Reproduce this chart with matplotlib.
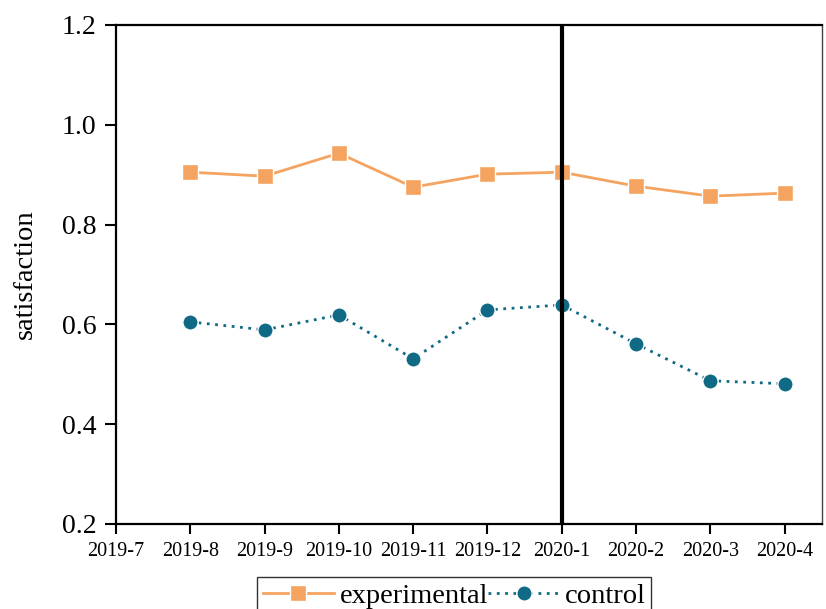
import matplotlib
matplotlib.use("Agg")
import matplotlib.pyplot as plt

months = ["2019-7", "2019-8", "2019-9", "2019-10", "2019-11", "2019-12",
          "2020-1", "2020-2", "2020-3", "2020-4"]
experimental = [0.905, 0.897, 0.943, 0.875, 0.901, 0.905, 0.877, 0.857, 0.863]
control = [0.605, 0.589, 0.619, 0.531, 0.629, 0.639, 0.561, 0.487, 0.481]
policy_month = "2020-1"

plt.rcParams["font.family"] = ["Liberation Serif", "DejaVu Serif"]

fig = plt.figure(figsize=(8.26, 6.09), dpi=100)
ax = fig.add_axes([0.1404, 0.1396, 0.8546, 0.8194])

x_idx = list(range(1, len(months)))
ax.plot(x_idx, experimental, color="#F4A460", lw=2.0, marker="s", ms=11,
        mec="white", mew=1.0, label="experimental", zorder=3)
ax.plot(x_idx, control, color="#106A85", lw=2.0, ls=(0, (1, 2)), marker="o",
        ms=11, mec="white", mew=1.0, label="control", zorder=3)

ax.axvline(months.index(policy_month), color="black", lw=3, zorder=4)

ax.set_xlim(0, len(months) - 0.5)
ax.set_ylim(0.2, 1.2)
ax.set_xticks(range(len(months)))
ax.set_xticklabels(months, fontsize=14.5)
ax.set_yticks([0.2, 0.4, 0.6, 0.8, 1.0, 1.2])
ax.set_yticklabels(["0.2", "0.4", "0.6", "0.8", "1.0", "1.2"], fontsize=20)
ax.set_ylabel("satisfaction", fontsize=20.5, labelpad=17)

ax.tick_params(axis="y", direction="out", length=8, width=1.5, pad=6)
ax.tick_params(axis="x", direction="out", length=7, width=1.5, pad=6)
for side in ["left", "bottom", "top"]:
    ax.spines[side].set_linewidth(1.6)
ax.spines["right"].set_linewidth(1.0)
ax.spines["right"].set_color("#444444")

leg = ax.legend(loc="upper center", bbox_to_anchor=(0.55, 0.0525),
                bbox_transform=fig.transFigure, ncol=2, fontsize=20.5,
                frameon=True, fancybox=False, edgecolor="black",
                handlelength=2.5, handletextpad=0.2, columnspacing=0.0,
                borderpad=0.2, borderaxespad=0)
leg.get_frame().set_linewidth(1.0)

fig.savefig("out.png", dpi=100)
